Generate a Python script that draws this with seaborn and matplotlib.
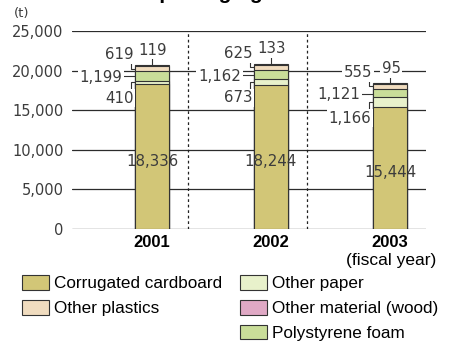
import matplotlib
matplotlib.use('Agg')
import matplotlib.pyplot as plt
from matplotlib.patches import Patch
import seaborn as sns
import numpy as np

# ---------------- data ----------------
years = ['2001', '2002', '2003']
cardboard = [18336, 18244, 15444]
other_paper = [410, 673, 1166]
polystyrene = [1199, 1162, 1121]
other_plastics = [619, 625, 555]
wood = [119, 133, 95]
yticks = [0, 5000, 10000, 15000, 20000, 25000]
ytick_labels = ['0', '5,000', '10,000', '15,000', '20,000', '25,000']
series_names = ['Corrugated cardboard', 'Other paper', 'Polystyrene foam',
                'Other plastics', 'Other material (wood)']
colors = ['#D2C677', '#E8F1CB', '#C9DD99', '#F0DCBF', '#E0A9C5']

sns.set_theme(style='white')
plt.rcParams['font.family'] = ['DejaVu Sans']

W, H = 450, 342
fig = plt.figure(figsize=(W / 100, H / 100), dpi=100)
AX_L, AX_R, AX_B, AX_T = 72, 426, 229, 31
ax = fig.add_axes([AX_L / W, 1 - AX_B / H, (AX_R - AX_L) / W, (AX_B - AX_T) / H])

EDGE = '#333333'
TXT = '#3c3c3c'
BAR_W = 0.286

layers = np.array([cardboard, other_paper, polystyrene, other_plastics, wood])
cum = np.cumsum(layers, axis=0)
for i in reversed(range(len(layers))):
    sns.barplot(x=years, y=cum[i], color=colors[i], width=BAR_W, saturation=1,
                edgecolor=EDGE, linewidth=0.8, errorbar=None, ax=ax, zorder=2)

XL = (-80 / 119, 274 / 119)
ax.set_xlim(*XL)
ax.set_ylim(0, 25000)
for sp in ax.spines.values():
    sp.set_visible(False)

for yv in yticks:
    ax.axhline(yv, color='#2b2b2b', lw=0.9, zorder=1)
for xv in [0.303, 1.303]:
    ax.axvline(xv, color='#222222', lw=0.9, ls=(0, (2.2, 2.2)), zorder=1)

ax.set_yticks(yticks)
ax.set_yticklabels(ytick_labels, fontsize=10.5, color=TXT, family='DejaVu Sans')
ax.tick_params(axis='y', length=0, pad=6)
ax.set_xticks(range(len(years)))
ax.set_xticklabels(years, fontsize=12, fontweight='bold', color='black',
                   family='Liberation Sans')
ax.tick_params(axis='x', length=0, pad=4)
ax.set_xlabel('')
ax.set_ylabel('')

# pixel <-> data helpers
sx = (AX_R - AX_L) / (XL[1] - XL[0])
sy = (AX_B - AX_T) / 25000


def X(xd):
    return AX_L + (xd - XL[0]) * sx


def Y(yd):
    return AX_B - yd * sy


def DX(px):
    return XL[0] + (px - AX_L) / sx


def DY(py):
    return (AX_B - py) / sy


def line(pts):
    ax.plot([DX(p[0]) for p in pts], [DY(p[1]) for p in pts], color=EDGE,
            lw=0.8, zorder=4, solid_capstyle='butt')


def label(xp, yp, s, ha):
    ax.text(DX(xp), DY(yp), s, ha=ha, va='center', fontsize=10.8, color=TXT,
            family='DejaVu Sans', zorder=5,
            bbox=dict(fc='white', ec='none', pad=1.2))


fmt = lambda v: f'{v:,}'
half = BAR_W * sx / 2
for i in range(len(years)):
    cx = X(i)
    bl = cx - half
    c1, c2, c3, c4, c5 = cum[:, i]
    # wood (top)
    t = Y(c5)
    line([(cx, t), (cx, t - 8)])
    label(cx + 1, t - 15, fmt(wood[i]), 'center')
    # other plastics
    m = Y((c3 + c4) / 2)
    line([(bl, m), (bl - 3.5, m), (bl - 3.5, m - 8)])
    label(bl - 1, m - 14, fmt(other_plastics[i]), 'right')
    # polystyrene foam
    m = Y((c2 + c3) / 2)
    line([(bl - 12, m + 0.5), (bl, m + 0.5)])
    label(bl - 13, m + 1.5, fmt(polystyrene[i]), 'right')
    # other paper
    m = Y((c1 + c2) / 2)
    line([(bl, m), (bl - 4, m), (bl - 4, m + 10)])
    label(bl - 1.5, m + 16, fmt(other_paper[i]), 'right')
    # cardboard
    ax.text(i, DY(Y(c1 / 2) + 5), fmt(cardboard[i]), ha='center', va='center',
            fontsize=10.8, color=TXT, family='DejaVu Sans', zorder=5)

# unit and fiscal-year notes
fig.text(14 / W, 1 - 13 / H, '(t)', ha='left', va='center', fontsize=9.5,
         color=TXT, family='DejaVu Sans')
fig.text(436 / W, 1 - 261 / H, '(fiscal year)', ha='right', va='center',
         fontsize=12.5, color='black', family='Liberation Sans')

# title (mostly above the visible area, as in the reference)
tkw = dict(fontsize=15, fontweight='bold', family='Liberation Sans')
fig.canvas.draw()
r = fig.canvas.get_renderer()
a = fig.text(0, 0, 'Amount of p', **tkw)
b = fig.text(0, 0, 'p', **tkw)
off = a.get_window_extent(r).width - b.get_window_extent(r).width
a.remove()
b.remove()
fig.text((159 - off) / W, 1.004, 'Amount of packaging materials used',
         ha='left', va='baseline', color='black', **tkw)

# legends
handles = [Patch(facecolor=c, edgecolor=EDGE, linewidth=0.8) for c in colors]
lkw = dict(loc='upper left', frameon=False, borderpad=0, borderaxespad=0,
           handlelength=1.6, handleheight=0.95, labelspacing=0.5,
           handletextpad=0.3, prop={'family': 'Liberation Sans', 'size': 12.3})
order1 = [0, 3]
order2 = [1, 4, 2]
leg1 = fig.legend([handles[k] for k in order1], [series_names[k] for k in order1],
                  bbox_to_anchor=(22 / W, 1 - 275 / H), **lkw)
leg2 = fig.legend([handles[k] for k in order2], [series_names[k] for k in order2],
                  bbox_to_anchor=(240 / W, 1 - 275 / H), **lkw)
for lg in (leg1, leg2):
    for tx in lg.get_texts():
        tx.set_color('black')

fig.savefig('out.png', dpi=100)
